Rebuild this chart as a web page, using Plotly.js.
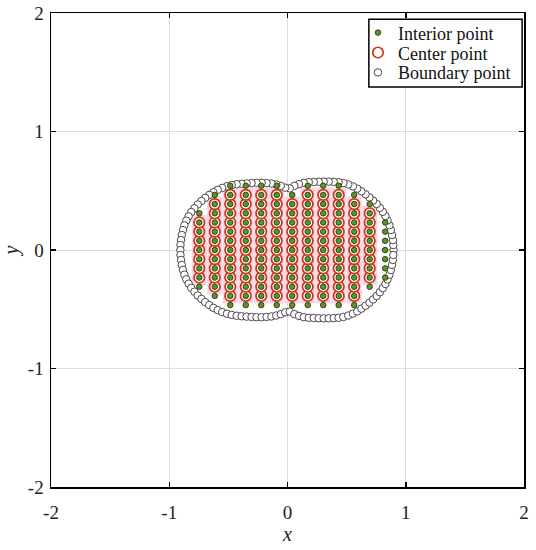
<!DOCTYPE html>
<html>
<head>
<meta charset="utf-8">
<script src="https://cdn.plot.ly/plotly-3.0.1.min.js"></script>
<style>html,body{margin:0;padding:0;background:#fff;}#chart{width:536px;height:550px;}</style>
</head>
<body>
<div id="chart"></div>
<script>
// ---- data ----
const colX = [-0.746, -0.615, -0.484, -0.353, -0.222, -0.091, 0.040, 0.171, 0.302, 0.433, 0.564, 0.695, 0.826];
const rowY = [-0.465, -0.3875, -0.31, -0.2325, -0.155, -0.0775, 0, 0.0775, 0.155, 0.2325, 0.31, 0.3875, 0.465, 0.5425];
// interior points: row index range per column
const interiorFirstRow = [2, 1, 0, 0, 0, 0, 0, 0, 0, 0, 0, 2, 3];
const interiorLastRow  = [10, 12, 13, 13, 13, 13, 12, 13, 13, 13, 12, 11, 9];
// center points: row index range per column (empty range = none)
const centerFirstRow = [3, 2, 1, 1, 1, 1, 1, 1, 1, 1, 1, 3, 1];
const centerLastRow  = [9, 11, 12, 12, 12, 12, 11, 12, 12, 12, 11, 10, 0];

const boundaryX = [
 0.897, 0.895, 0.891, 0.884, 0.874, 0.862, 0.846, 0.828, 0.806, 0.781, 0.754, 0.724, 0.693, 0.660, 0.625, 0.590, 0.553, 0.514, 0.473, 0.432,
 0.391, 0.349, 0.306, 0.264, 0.222, 0.180, 0.138, 0.097, 0.058, 0.019, -0.019, -0.057, -0.095, -0.136, -0.177, -0.219, -0.262, -0.304, -0.346, -0.388,
 -0.430, -0.472, -0.512, -0.552, -0.590, -0.627, -0.662, -0.696, -0.728, -0.759, -0.787, -0.814, -0.836, -0.856, -0.872, -0.884, -0.894, -0.900, -0.905, -0.906,
 -0.905, -0.900, -0.894, -0.884, -0.872, -0.856, -0.836, -0.814, -0.787, -0.759, -0.728, -0.696, -0.662, -0.627, -0.590, -0.552, -0.512, -0.472, -0.430, -0.388,
 -0.346, -0.304, -0.262, -0.219, -0.177, -0.136, -0.095, -0.057, -0.019, 0.019, 0.058, 0.097, 0.138, 0.180, 0.222, 0.264, 0.306, 0.349, 0.391, 0.432,
 0.473, 0.514, 0.553, 0.590, 0.625, 0.660, 0.693, 0.724, 0.754, 0.781, 0.806, 0.828, 0.846, 0.862, 0.874, 0.884, 0.891, 0.895
];
const boundaryY = [
 0.000, 0.042, 0.084, 0.126, 0.169, 0.209, 0.249, 0.287, 0.322, 0.356, 0.388, 0.417, 0.444, 0.470, 0.495, 0.518, 0.537, 0.553, 0.565, 0.572,
 0.575, 0.577, 0.577, 0.576, 0.574, 0.572, 0.567, 0.556, 0.541, 0.520, 0.526, 0.541, 0.553, 0.561, 0.565, 0.567, 0.567, 0.565, 0.562, 0.559,
 0.555, 0.548, 0.538, 0.524, 0.508, 0.488, 0.465, 0.440, 0.413, 0.384, 0.352, 0.320, 0.284, 0.247, 0.208, 0.168, 0.126, 0.084, 0.042, 0.000,
 -0.042, -0.084, -0.126, -0.168, -0.208, -0.247, -0.284, -0.320, -0.352, -0.384, -0.413, -0.440, -0.465, -0.488, -0.508, -0.524, -0.538, -0.548, -0.555, -0.559,
 -0.562, -0.565, -0.567, -0.567, -0.565, -0.561, -0.553, -0.541, -0.526, -0.520, -0.541, -0.556, -0.567, -0.572, -0.574, -0.576, -0.577, -0.577, -0.575, -0.572,
 -0.565, -0.553, -0.537, -0.518, -0.495, -0.470, -0.444, -0.417, -0.388, -0.356, -0.322, -0.287, -0.249, -0.209, -0.169, -0.126, -0.084, -0.042
];
const tickVals = [-2, -1, 0, 1, 2];
const tickText = ['-2', '-1', '0', '1', '2'];
const legendNames = ['Interior point', 'Center point', 'Boundary point'];

// ---- build point sets from the grid ----
const intX = [], intY = [], cenX = [], cenY = [];
colX.forEach((x, i) => {
  for (let k = interiorFirstRow[i]; k <= interiorLastRow[i]; k++) { intX.push(x); intY.push(rowY[k]); }
  for (let k = centerFirstRow[i]; k <= centerLastRow[i]; k++) { cenX.push(x); cenY.push(rowY[k]); }
});

const serif = '"Liberation Serif", "Times New Roman", serif';

const traces = [
  { x: cenX, y: cenY, type: 'scatter', mode: 'markers', showlegend: false, hoverinfo: 'skip',
    marker: { symbol: 'square', size: 15, color: '#f9d6e6', line: { width: 0 } } },
  { x: boundaryX, y: boundaryY, type: 'scatter', mode: 'markers', name: legendNames[2], legend: 'legend3',
    marker: { symbol: 'circle', size: 7.5, color: '#ffffff', line: { color: '#4a4a4a', width: 1 } } },
  { x: cenX, y: cenY, type: 'scatter', mode: 'markers', name: legendNames[1], legend: 'legend2',
    marker: { symbol: 'circle', size: 10.5, color: '#ffffff', line: { color: '#cc3518', width: 1.7 } } },
  { x: intX, y: intY, type: 'scatter', mode: 'markers', name: legendNames[0], legend: 'legend',
    marker: { symbol: 'circle', size: 5.5, color: '#4f9a2a', line: { color: '#4a3a10', width: 1 } } }
];

const axisCommon = {
  range: [-2, 2], tickvals: tickVals, ticktext: tickText,
  showgrid: true, gridcolor: '#dddddd', gridwidth: 1, zeroline: false,
  showline: true, linecolor: '#000', linewidth: 1.5, mirror: 'ticks',
  ticks: 'inside', ticklen: 5, tickwidth: 1.5, tickcolor: '#000',
  tickfont: { family: serif, size: 19, color: '#222' }
};

function legendAt(yPaper) {
  return {
    x: 0.649, y: yPaper, xanchor: 'left', yanchor: 'middle',
    bgcolor: 'rgba(0,0,0,0)', borderwidth: 0,
    font: { family: serif, size: 18, color: '#111' }
  };
}

const layout = {
  width: 536, height: 550,
  margin: { l: 51, r: 12, t: 13, b: 63 },
  paper_bgcolor: '#fff', plot_bgcolor: '#fff',
  showlegend: true,
  xaxis: Object.assign({}, axisCommon, {
    ticklabelstandoff: 8,
    title: { text: '<i>x</i>', font: { family: serif, size: 20, color: '#222' }, standoff: 3 }
  }),
  yaxis: Object.assign({}, axisCommon, {
    ticklabelstandoff: 2,
    title: { text: '<i>y</i>', font: { family: serif, size: 20, color: '#222' }, standoff: 10 }
  }),
  legend: legendAt(0.958),
  legend2: legendAt(0.916),
  legend3: legendAt(0.874),
  shapes: [
    { type: 'rect', xref: 'paper', yref: 'paper', x0: 0.672, x1: 0.996, y0: 0.844, y1: 0.987,
      fillcolor: '#ffffff', line: { color: '#000', width: 1.5 }, layer: 'above' }
  ]
};

Plotly.newPlot('chart', traces, layout, { staticPlot: true, displayModeBar: false });
</script>
</body>
</html>
